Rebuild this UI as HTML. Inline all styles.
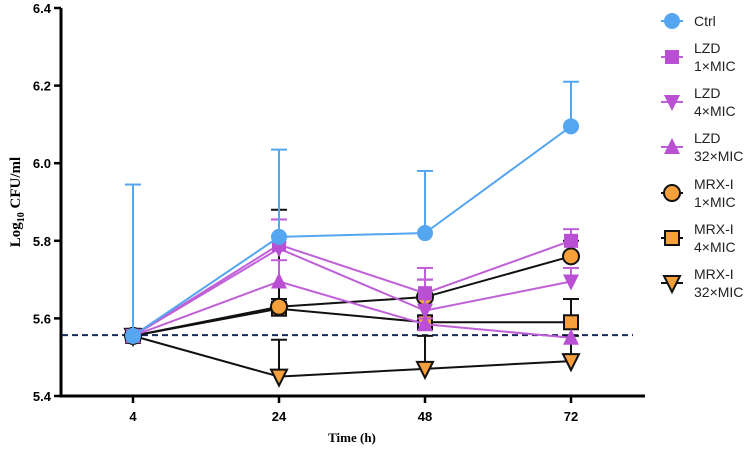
<!DOCTYPE html>
<html><head><meta charset="utf-8"><style>
body{margin:0;background:#fff;width:752px;height:451px;overflow:hidden}
svg text{font-family:"Liberation Sans",sans-serif}
</style></head><body>
<svg id="chart" width="752" height="451" xmlns="http://www.w3.org/2000/svg"></svg>
<script>
const times = ["4","24","48","72"];
const yTicks = [5.4,5.6,5.8,6.0,6.2,6.4];
const baseline = 5.557;
const ctrlVals = [5.555,5.81,5.82,6.095];
const ctrlErr = [5.945,6.035,5.98,6.21];
const lzd1Vals = [5.555,5.79,5.665,5.80];
const lzd1Err = [5.56,5.855,5.70,5.83];
const lzd4Vals = [5.555,5.78,5.62,5.695];
const lzd4Err = [5.56,5.855,5.73,5.73];
const lzd32Vals = [5.555,5.695,5.585,5.55];
const lzd32Err = [5.56,5.75,5.60,5.56];
const mrx1Vals = [5.555,5.63,5.655,5.76];
const mrx1Err = [5.56,5.88,5.70,5.80];
const mrx4Vals = [5.555,5.625,5.59,5.59];
const mrx4Err = [5.56,5.65,5.60,5.65];
const mrx32Vals = [5.555,5.45,5.47,5.49];
const mrx32Err = [5.56,5.545,5.555,5.555];
const series = [
 {name:"Ctrl",lab:["Ctrl"],v:ctrlVals,e:ctrlErr,c:"#55a6f0",fill:"#55a6f0",stroke:"none",m:"circle"},
 {name:"LZD 1×MIC",lab:["LZD","1×MIC"],v:lzd1Vals,e:lzd1Err,c:"#c060d8",fill:"#b94fd3",stroke:"none",m:"square"},
 {name:"LZD 4×MIC",lab:["LZD","4×MIC"],v:lzd4Vals,e:lzd4Err,c:"#c060d8",fill:"#b94fd3",stroke:"none",m:"down"},
 {name:"LZD 32×MIC",lab:["LZD","32×MIC"],v:lzd32Vals,e:lzd32Err,c:"#c060d8",fill:"#b94fd3",stroke:"none",m:"up"},
 {name:"MRX-I 1×MIC",lab:["MRX-I","1×MIC"],v:mrx1Vals,e:mrx1Err,c:"#111",fill:"#f5a03a",stroke:"#111",m:"circle"},
 {name:"MRX-I 4×MIC",lab:["MRX-I","4×MIC"],v:mrx4Vals,e:mrx4Err,c:"#111",fill:"#f5a03a",stroke:"#111",m:"square"},
 {name:"MRX-I 32×MIC",lab:["MRX-I","32×MIC"],v:mrx32Vals,e:mrx32Err,c:"#111",fill:"#f5a03a",stroke:"#111",m:"down"}
];
const NS="http://www.w3.org/2000/svg";
const svg=document.getElementById('chart');
const X0=61,X1=645,Y0=396,Y1=8;
function xS(i){return 133+i*146;}
function yS(v){return Y0-(v-5.4)/(1.0)*(Y0-Y1);}
function mk(tag,attrs,parent){const el=document.createElementNS(NS,tag);for(const k in attrs)el.setAttribute(k,attrs[k]);(parent||svg).appendChild(el);return el;}
function marker(g,type,x,y,fill,stroke,s){
 const a={fill:fill,stroke:stroke,"stroke-width":stroke==="none"?0:2};let el;
 if(type==="circle"){a.cx=x;a.cy=y;a.r=s;el=mk("circle",a,g);}
 else if(type==="square"){a.x=x-s;a.y=y-s;a.width=2*s;a.height=2*s;el=mk("rect",a,g);}
 else if(type==="down"){a.points=`${x-s-1},${y-s} ${x+s+1},${y-s} ${x},${y+s+2}`;el=mk("polygon",a,g);}
 else {a.points=`${x-s-1},${y+s} ${x+s+1},${y+s} ${x},${y-s-2}`;el=mk("polygon",a,g);}
 return el;
}
// axes
const ax=mk("g",{});


mk("line",{x1:X0,y1:Y1,x2:X0,y2:Y0+1.5,stroke:"#000","stroke-width":3},ax);
mk("line",{x1:X0-1.5,y1:Y0,x2:X1,y2:Y0,stroke:"#000","stroke-width":3},ax);
yTicks.forEach(t=>{
 const y=yS(t);
 mk("line",{x1:X0-7,y1:y,x2:X0,y2:y,stroke:"#000","stroke-width":2.5},ax);
 const tx=mk("text",{x:X0-10,y:y+5,"text-anchor":"end","font-size":13,"font-weight":"bold"},ax);
 tx.textContent=t.toFixed(1);
 
 
});
times.forEach((t,i)=>{
 const x=xS(i);
 mk("line",{x1:x,y1:Y0,x2:x,y2:Y0+7,stroke:"#000","stroke-width":2.5},ax);
 const tx=mk("text",{x:x,y:Y0+25,"text-anchor":"middle","font-size":13,"font-weight":"bold"},ax);
 tx.textContent=t;
 
 
});
const xt=mk("text",{x:352,y:442,"text-anchor":"middle","font-size":13,"font-weight":"bold",style:"font-family:'Liberation Serif',serif"});
xt.textContent="Time (h)";


const yt=mk("text",{transform:"translate(20,202) rotate(-90)","text-anchor":"middle","font-size":15,"font-weight":"bold",style:"font-family:'Liberation Serif',serif"});
yt.innerHTML='Log<tspan font-size="10" dy="4">10</tspan><tspan dy="-4"> CFU/ml</tspan>';


// baseline
const bl=mk("line",{x1:62,y1:yS(baseline),x2:633,y2:yS(baseline),stroke:"#1a2a5a","stroke-width":2,"stroke-dasharray":"6,4"});


// series drawn in reverse so Ctrl on top
[...series].reverse().forEach(s=>{
 const g=mk("g",{});
 
 
 s.v.forEach((v,i)=>{
  if(Math.abs(s.e[i]-v)<0.01)return;
  const x=xS(i);
  mk("line",{x1:x,y1:yS(v),x2:x,y2:yS(s.e[i]),stroke:s.c,"stroke-width":2},g);
  mk("line",{x1:x-8,y1:yS(s.e[i]),x2:x+8,y2:yS(s.e[i]),stroke:s.c,"stroke-width":2},g);
 });
 mk("polyline",{points:s.v.map((v,i)=>xS(i)+","+yS(v)).join(" "),fill:"none",stroke:s.c,"stroke-width":2},g);
 s.v.forEach((v,i)=>{
  const m=marker(g,s.m,xS(i),yS(v),s.fill,s.stroke,s.m==="circle"?8:7);
  
  
 });
});
// legend
const lg=mk("g",{});


const rows=[21,57,102,147,193,238,283];
series.forEach((s,i)=>{
 const g=mk("g",{},lg);
 
 
 const y=rows[i];
 mk("line",{x1:661,y1:y,x2:683,y2:y,stroke:s.c,"stroke-width":2},g);
 marker(g,s.m,672,y,s.fill,s.stroke,s.m==="circle"?8:7);
 s.lab.forEach((l,j)=>{
  const t=mk("text",{x:694,y:(s.lab.length===1?y+5:y-4+j*18),"font-size":14,fill:"#222"},g);
  t.textContent=l;
 });
});
</script>
</body></html>
